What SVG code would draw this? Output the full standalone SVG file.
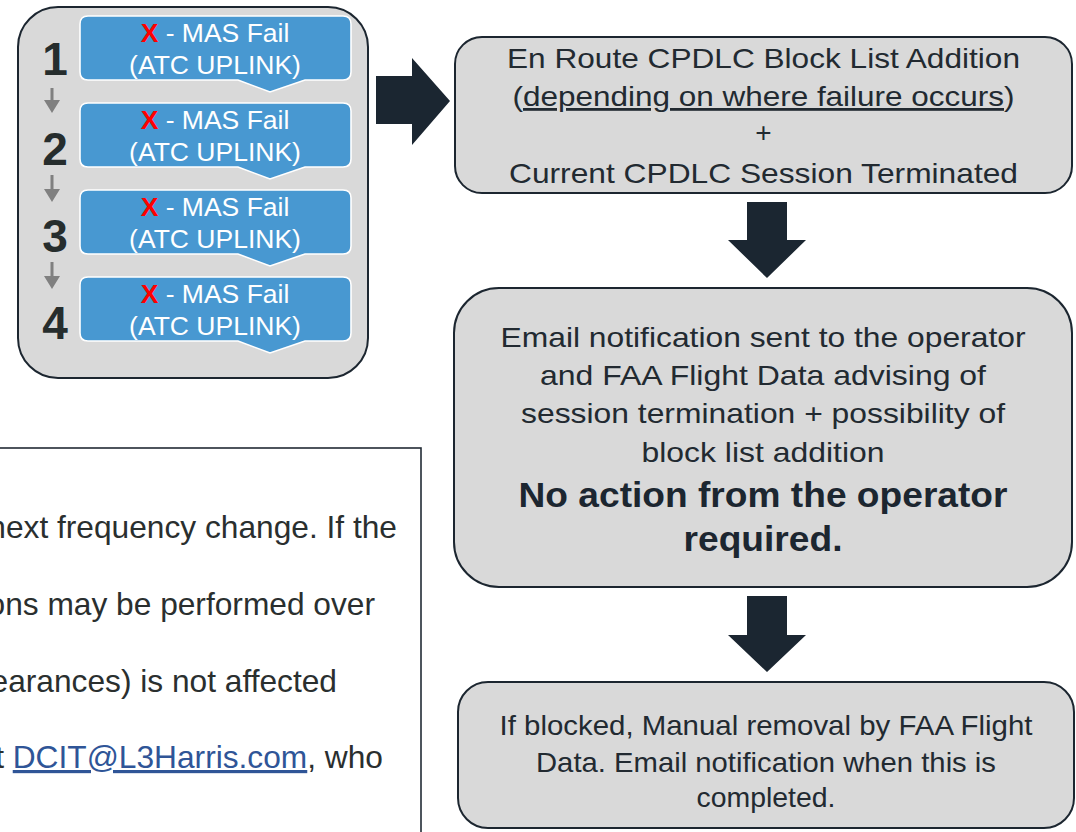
<svg xmlns="http://www.w3.org/2000/svg" xmlns:xlink="http://www.w3.org/1999/xlink" width="1076" height="832" viewBox="0 0 1076 832">
  <style>
    .panel { fill: #d9d9d9; stroke: #1c2630; stroke-width: 2; }
    .chev { fill: #4898d1; stroke: #ffffff; stroke-width: 1.6; }
    .num { font-family: "Liberation Sans", Arial, sans-serif; font-weight: bold; font-size: 46px; fill: #262d2d; text-anchor: middle; }
    .lbl { font-family: "Liberation Sans", Arial, sans-serif; font-size: 26.5px; fill: #ffffff; text-anchor: middle; }
    .x { fill: #ff0000; font-weight: bold; }
    .body { font-family: "Liberation Sans", Arial, sans-serif; font-size: 28px; fill: #222a31; text-anchor: middle; }
    .bold { font-weight: bold; font-size: 35px; fill: #1c2630; }
    .note { font-family: "Liberation Sans", Arial, sans-serif; font-size: 31.7px; fill: #2a2f2f; text-anchor: end; }
    .link { fill: #2f5597; text-decoration: underline; }
    .big { fill: #1b2631; }
    .small { fill: #808080; }
  </style>
  <defs>
    <!-- rounded box with a downward chevron tip -->
    <path id="chevron" d="M88,0 H343 Q351,0 351,8 V56 Q351,64 343,64 H305 L270,76 L238,64 H88 Q80,64 80,56 V8 Q80,0 88,0 Z"/>
  </defs>

  <rect width="1076" height="832" fill="#ffffff"/>

  <!-- notes panel, cut off at the left and bottom -->
  <g id="notes-panel">
    <rect x="-10" y="448" width="431" height="400" fill="#ffffff" stroke="#222b35" stroke-width="1.6"/>
    <text class="note" x="397" y="538">next frequency change. If the</text>
    <text class="note" x="375" y="615">ons may be performed over</text>
    <text class="note" x="337" y="692">earances) is not affected</text>
    <text class="note" x="383" y="768">t <tspan class="link">DCIT@L3Harris.com</tspan>, who</text>
  </g>

  <!-- failure sequence container -->
  <g id="failure-sequence">
    <rect class="panel" x="18" y="7" width="350" height="371" rx="40" ry="40"/>
    <g id="step-1">
      <text class="num" x="55" y="75">1</text>
      <use xlink:href="#chevron" class="chev" y="16"/>
      <text class="lbl" x="215" y="42"><tspan class="x">X</tspan> - MAS Fail</text>
      <text class="lbl" x="215" y="74">(ATC UPLINK)</text>
    </g>
    <g id="step-2">
      <text class="num" x="55" y="165">2</text>
      <use xlink:href="#chevron" class="chev" y="103"/>
      <text class="lbl" x="215" y="129"><tspan class="x">X</tspan> - MAS Fail</text>
      <text class="lbl" x="215" y="161">(ATC UPLINK)</text>
    </g>
    <g id="step-3">
      <text class="num" x="55" y="252">3</text>
      <use xlink:href="#chevron" class="chev" y="190"/>
      <text class="lbl" x="215" y="216"><tspan class="x">X</tspan> - MAS Fail</text>
      <text class="lbl" x="215" y="248">(ATC UPLINK)</text>
    </g>
    <g id="step-4">
      <text class="num" x="55" y="339">4</text>
      <use xlink:href="#chevron" class="chev" y="277"/>
      <text class="lbl" x="215" y="303"><tspan class="x">X</tspan> - MAS Fail</text>
      <text class="lbl" x="215" y="335">(ATC UPLINK)</text>
    </g>
  </g>

  <g id="block-list-addition">
    <rect class="panel" x="455" y="37" width="617" height="156" rx="27" ry="27"/>
    <text class="body" x="763.5" y="68" textLength="513" lengthAdjust="spacingAndGlyphs">En Route CPDLC Block List Addition</text>
    <text class="body" x="763.5" y="106" textLength="502" lengthAdjust="spacingAndGlyphs">(<tspan text-decoration="underline">depending on where failure occurs</tspan>)</text>
    <text class="body" x="763.5" y="142">+</text>
    <text class="body" x="763.5" y="183" textLength="509" lengthAdjust="spacingAndGlyphs">Current CPDLC Session Terminated</text>
  </g>

  <g id="email-notification">
    <rect class="panel" x="454" y="288" width="618" height="299" rx="45" ry="45"/>
    <text class="body" x="763" y="347" textLength="525" lengthAdjust="spacingAndGlyphs">Email notification sent to the operator</text>
    <text class="body" x="763" y="385" textLength="446" lengthAdjust="spacingAndGlyphs">and FAA Flight Data advising of</text>
    <text class="body" x="763" y="423" textLength="484" lengthAdjust="spacingAndGlyphs">session termination + possibility of</text>
    <text class="body" x="763" y="462" textLength="243" lengthAdjust="spacingAndGlyphs">block list addition</text>
    <text class="body bold" x="763" y="507" textLength="489" lengthAdjust="spacingAndGlyphs">No action from the operator</text>
    <text class="body bold" x="763" y="551" textLength="159" lengthAdjust="spacingAndGlyphs">required.</text>
  </g>

  <g id="manual-removal">
    <rect class="panel" x="458" y="682" width="616" height="146" rx="30" ry="30"/>
    <text class="body" x="766" y="735" textLength="533" lengthAdjust="spacingAndGlyphs">If blocked, Manual removal by FAA Flight</text>
    <text class="body" x="766" y="772" textLength="460" lengthAdjust="spacingAndGlyphs">Data. Email notification when this is</text>
    <text class="body" x="766" y="807" textLength="139" lengthAdjust="spacingAndGlyphs">completed.</text>
  </g>

  <g id="connectors">
    <!-- step-to-step arrows -->
    <path class="small" d="M50.5,88 H53.5 V100 H60 L52,113 L44,100 H50.5 Z"/>
    <path class="small" d="M50.5,175 H53.5 V189 H60 L52,202 L44,189 H50.5 Z"/>
    <path class="small" d="M50.5,262 H53.5 V276 H60 L52,289 L44,276 H50.5 Z"/>
    <!-- block arrows between stages -->
    <path class="big" d="M376,76 H412 V58 L450,101 L412,145 V124 H376 Z"/>
    <path class="big" d="M747,202 H787 V240 H806 L767,278 L728,240 H747 Z"/>
    <path class="big" d="M747,596 H787 V635 H806 L767,672 L728,635 H747 Z"/>
  </g>
</svg>
